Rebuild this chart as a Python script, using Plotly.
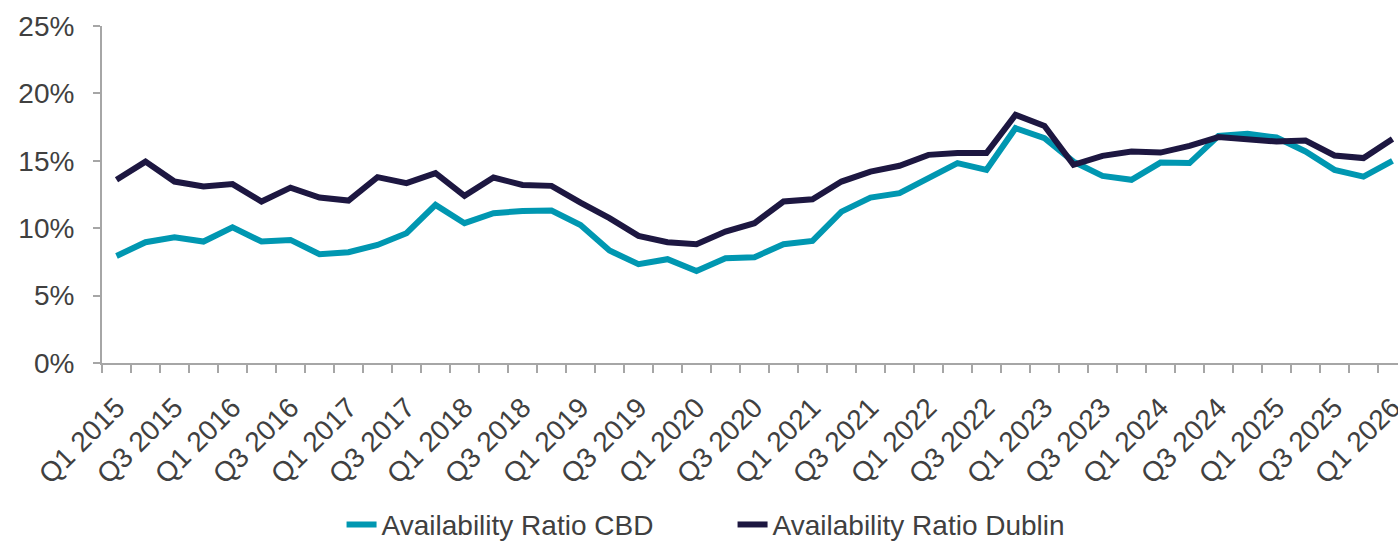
import plotly.graph_objects as go

quarters = [f"Q{q} {y}" for y in range(2015, 2027) for q in range(1, 5)][:45]

cbd = [7.94, 8.96, 9.33, 9.01, 10.07, 9.01, 9.13, 8.07, 8.22, 8.76,
       9.63, 11.73, 10.37, 11.11, 11.28, 11.31, 10.24, 8.34, 7.33, 7.70,
       6.83, 7.77, 7.85, 8.81, 9.06, 11.23, 12.27, 12.60, 13.71, 14.83,
       14.33, 17.42, 16.68, 14.94, 13.88, 13.59, 14.87, 14.83, 16.85, 17.00,
       16.73, 15.69, 14.33, 13.83, 15.00]

dublin = [13.59, 14.94, 13.46, 13.09, 13.27, 11.98, 13.01, 12.27, 12.05, 13.79,
          13.34, 14.08, 12.40, 13.76, 13.21, 13.14, 11.90, 10.74, 9.43, 8.96,
          8.81, 9.75, 10.37, 11.98, 12.15, 13.46, 14.20, 14.63, 15.44, 15.57,
          15.57, 18.41, 17.59, 14.70, 15.37, 15.69, 15.61, 16.11, 16.76, 16.61,
          16.43, 16.50, 15.39, 15.20, 16.61]

y_ticks = [0, 5, 10, 15, 20, 25]
y_labels = [f"{v}%" for v in y_ticks]

x = list(range(len(quarters)))
label_idx = x[::2]
label_text = [quarters[i] for i in label_idx]

TEXT = "#404040"
AXIS = "#a6a6a6"
FONT = "Liberation Sans, Arial, sans-serif"
FS = 28

fig = go.Figure()
fig.add_trace(go.Scatter(x=x, y=cbd, mode="lines", name="Availability Ratio CBD",
                         line=dict(color="#0097B1", width=6)))
fig.add_trace(go.Scatter(x=x, y=dublin, mode="lines", name="Availability Ratio Dublin",
                         line=dict(color="#1D1741", width=6)))

fig.update_layout(
    width=1398, height=541,
    margin=dict(l=102, r=0, t=26, b=178, autoexpand=False),
    paper_bgcolor="white", plot_bgcolor="white",
    font=dict(family=FONT, size=FS, color=TEXT),
    showlegend=True,
    legend=dict(orientation="h", xref="container", yref="container",
                x=0.524, xanchor="center", y=0.03, yanchor="middle",
                font=dict(size=FS, color=TEXT), itemwidth=30,
                entrywidth=346, entrywidthmode="pixels"),
    xaxis=dict(range=[-0.5, 44.19], tickvals=label_idx, ticktext=label_text,
               tickangle=-45, ticks="", showgrid=False, zeroline=False,
               showline=True, linecolor=AXIS, linewidth=2,
               ticklabeloverflow="allow", automargin=False,
               ticklabelstandoff=15,
               tickfont=dict(size=FS, color=TEXT),
               minor=dict(tick0=-0.5, dtick=1, ticks="outside", ticklen=8,
                          tickcolor=AXIS, tickwidth=1.5, showgrid=False)),
    yaxis=dict(range=[0, 25], tickvals=y_ticks, ticktext=y_labels,
               ticks="outside", ticklen=7, tickcolor=AXIS, tickwidth=1.5,
               ticklabelstandoff=13,
               showgrid=False, zeroline=False, showline=True, automargin=False,
               linecolor=AXIS, linewidth=2, tickfont=dict(size=FS, color=TEXT)),
)

fig.write_html("out.html", config={"displayModeBar": False},
               post_script="document.body.style.margin='0';")
